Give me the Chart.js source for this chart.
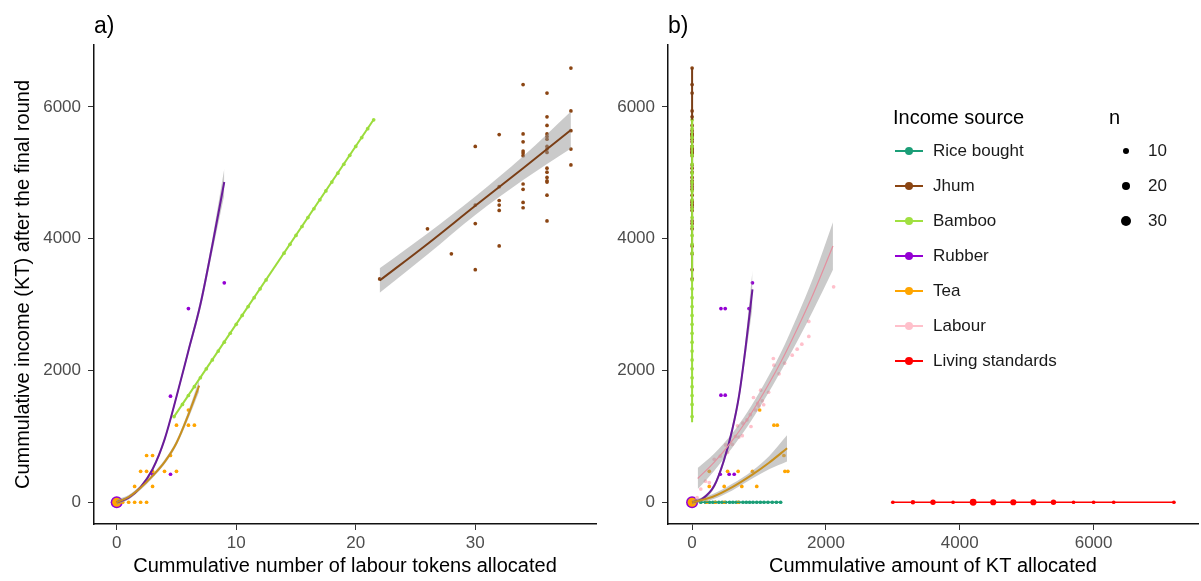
<!DOCTYPE html>
<html>
<head>
<meta charset="utf-8">
<title>Cumulative income by income source</title>
<script src="https://cdn.jsdelivr.net/npm/chart.js@4.4.1/dist/chart.umd.min.js"></script>
<style>
  body { margin: 0; background: #fff; font-family: "Liberation Sans", Arial, sans-serif; }
  #wrap { position: relative; width: 1201px; height: 581px; overflow: hidden; }
  canvas { position: absolute; top: 0; }
  #chartA { left: 0; }
  #chartB { left: 600px; }
  .tag { position: absolute; top: 14px; font-size: 23px; line-height: 1; color: #000; }
  .leg { position: absolute; white-space: nowrap; color: #1a1a1a; }
  .legTitle { font-size: 20px; line-height: 20px; color: #000; }
  .legText { font-size: 17px; line-height: 20px; }
  .keyLine { position: absolute; height: 2px; }
  .keyDot { position: absolute; border-radius: 50%; }
</style>
</head>
<body>
<div id="wrap">
  <canvas id="chartA" width="600" height="581"></canvas>
  <canvas id="chartB" width="601" height="581"></canvas>
  <div class="tag" style="left:94px">a)</div>
  <div class="tag" style="left:668px">b)</div>
  <div id="legend"></div>
</div>
<script>
// ---- data ----
const sources = ['Rice bought', 'Jhum', 'Bamboo', 'Rubber', 'Tea', 'Labour', 'Living standards'];
const sourceColors = ['#1B9E77', '#8B4513', '#A0E040', '#9400D3', '#FFA500', '#FFC0CB', '#FF0000'];
const sizeLegend = [10, 20, 30];

const yTicks = [0, 2000, 4000, 6000];
const xTicksA = [0, 10, 20, 30];
const xTicksB = [0, 2000, 4000, 6000];

// panel a: labour tokens vs income
const rubberTokens = [0, 3, 4.5, 4.5, 6, 9];
const rubberIncomeA = [0, 425, 425, 1610, 2940, 3330];
const rubberCountA = [35, 1, 1, 1, 1, 1];

const teaTokens = [0, 0.5, 1, 1.5, 2, 2.5, 1.5, 3, 2, 2.5, 3, 4, 5, 2.5, 3, 4.5, 5, 6, 6.5, 6];
const teaIncomeA = [0, 0, 0, 0, 0, 0, 240, 240, 470, 470, 470, 470, 470, 710, 710, 710, 1170, 1170, 1170, 1400];
const teaCountA = [17];

const bambooTokens = [4.8, 5.5, 6, 6.5, 7, 7.5, 8, 8.5, 9, 9.5, 10, 10.5, 11, 11.5, 12, 12.5, 14, 14.5, 15, 15.5, 16, 16.5, 17, 17.5, 18, 18.5, 19, 19.5, 20, 20.5, 21, 21.5];
const bambooIncome = [1300, 1485, 1620, 1755, 1890, 2025, 2160, 2295, 2430, 2565, 2700, 2835, 2970, 3105, 3240, 3375, 3780, 3915, 4050, 4185, 4320, 4455, 4590, 4725, 4860, 4995, 5130, 5265, 5400, 5535, 5670, 5805];

const jhumTokens = [22, 26, 28, 30, 30, 30, 30, 32, 32, 32, 32, 32, 32,
  34, 34, 34, 34, 34, 34, 34, 34, 34, 34,
  36, 36, 36, 36, 36, 36, 36, 36, 36, 36, 36, 36, 36, 36, 36, 36,
  38, 38, 38, 38, 38];
const jhumIncome = [3390, 4150, 3770, 5400, 4510, 4230, 3530, 5580, 4790, 4580, 4510, 4430, 3890,
  6340, 5590, 5470, 5330, 5300, 5260, 4830, 4750, 4550, 4470,
  6210, 5850, 5720, 5590, 5550, 5510, 5400, 5360, 5310, 5070, 5010, 4930, 4880, 4860, 4660, 4270,
  6590, 5940, 5640, 5360, 5120];

// fitted curves, panel a
const rubberFitA = { x: [0, 1, 2, 3, 4, 5, 6, 7, 8, 9],
  y: [0, 70, 230, 500, 950, 1600, 2300, 3000, 3900, 4860],
  lo: [-30, 40, 200, 470, 915, 1560, 2250, 2930, 3800, 4660],
  hi: [30, 100, 260, 530, 985, 1640, 2350, 3070, 4000, 5060] };
const teaFitA = { x: [0, 1, 2, 3, 4, 5, 6, 6.9],
  y: [0, 80, 220, 400, 610, 900, 1330, 1770],
  lo: [-40, 50, 190, 370, 575, 860, 1270, 1680],
  hi: [40, 110, 250, 430, 645, 940, 1390, 1860] };
const jhumFitA = { x: [22, 26, 30, 34, 38],
  y: [3365, 3920, 4500, 5070, 5650],
  lo: [3180, 3760, 4360, 4890, 5370],
  hi: [3550, 4080, 4640, 5250, 5930] };
const bambooFitA = { x: [4.8, 21.5], y: [1300, 5810] };

// panel b: KT allocated vs income
const riceKT = [130, 200, 260, 310, 347, 400, 450, 500, 560, 610, 660, 700, 760, 810, 860, 910, 966, 1020, 1075, 1134, 1198, 1260, 1323];
const riceIncome = [0, 0, 0, 0, 0, 0, 0, 0, 0, 0, 0, 0, 0, 0, 0, 0, 0, 0, 0, 0, 0, 0, 0];
const jhumKT = [0, 0, 0, 0, 0, 0, 0, 0, 0, 0, 0, 0, 0, 0, 0, 0, 0, 0, 0, 0, 0, 0, 0,
  0, 0, 0, 0, 0, 0, 0, 0, 0, 0, 0, 0, 0, 0, 0, 0, 0, 0, 0, 0, 0];
const bambooKT = [0, 0, 0, 0, 0, 0, 0, 0, 0, 0, 0, 0, 0, 0, 0, 0,
  0, 0, 0, 0, 0, 0, 0, 0, 0, 0, 0, 0, 0, 0, 0, 0];
const rubberKT = [0, 421, 554, 629, 431, 495, 431, 495, 851, 902];
const rubberIncomeB = [0, 425, 425, 425, 1625, 1625, 2940, 2940, 2940, 3330];
const rubberCountB = [35];
const teaKT = [0, 223, 347, 480, 688, 257, 480, 743, 966, 257, 530, 688, 902, 1387, 1431, 1372, 1223, 1273, 1010];
const teaIncomeB = [0, 0, 0, 0, 0, 240, 240, 240, 240, 470, 470, 470, 470, 470, 470, 710, 1170, 1170, 1400];
const teaCountB = [17];
const labourKT = [2115, 1744, 1744, 1570, 1496, 1214, 1223, 1382, 1144, 1025, 917, 1050, 980, 1000, 1070,
  679, 650, 700, 750, 530, 500, 331, 257, 200, 74, 420, 600, 820, 870, 760, 1300, 1640, 880, 950, 130];
const labourIncome = [3270, 2745, 2517, 2324, 2233, 2182, 2081, 2111, 1670, 1701, 1590, 1539, 1500, 1460, 1480,
  1160, 1000, 990, 1010, 755, 870, 653, 299, 320, 71, 700, 880, 1250, 1330, 1200, 1950, 2400, 1150, 1400, 200];
const livingKT = [3000, 3300, 3600, 3900, 4200, 4500, 4800, 5100, 5400, 5700, 6000, 6300, 7200];
const livingIncome = [0, 0, 0, 0, 0, 0, 0, 0, 0, 0, 0, 0, 0];
const livingCount = [1, 2, 4, 1, 8, 6, 6, 6, 4, 1, 1, 1, 1];

// fitted curves, panel b
const riceFitB = { x: [130, 1323], y: [0, 0] };
const jhumFitB = { x: [0, 0], y: [3365, 6590] };
const bambooFitB = { x: [0, 0], y: [1215, 5805] };
const rubberFitB = { x: [0, 150, 331, 480, 600, 703, 800, 902],
  y: [0, 50, 250, 650, 1100, 1625, 2350, 3230],
  lo: [-20, 25, 215, 600, 1040, 1545, 2220, 2950],
  hi: [20, 75, 285, 700, 1160, 1705, 2480, 3510] };
const teaFitB = { x: [0, 300, 600, 900, 1150, 1420],
  y: [0, 80, 230, 420, 600, 820],
  lo: [-30, 40, 180, 360, 500, 620],
  hi: [30, 120, 280, 480, 700, 1020] };
const labourFitB = { x: [84, 332, 580, 827, 1075, 1322, 1570, 1818, 2105],
  y: [360, 610, 910, 1260, 1670, 2120, 2630, 3180, 3890],
  lo: [200, 480, 800, 1150, 1550, 1980, 2440, 2930, 3530],
  hi: [520, 740, 1020, 1370, 1790, 2260, 2820, 3430, 4250] };

// ---- helpers ----
const FONT = '"Liberation Sans", Arial, sans-serif';
const BAND = 'rgba(150,150,150,0.5)';
const sizeFor = n => 1 + 0.85 * Math.sqrt(n);
const pts = (xs, ys) => xs.map((x, i) => ({ x: x, y: ys[i] }));

function pointSet(xs, ys, color, counts, order) {
  return {
    data: pts(xs, ys), showLine: false, order: order,
    pointRadius: xs.map((x, i) => sizeFor((counts && counts[i]) || 1)),
    pointBackgroundColor: color, pointBorderWidth: 0, pointHoverRadius: 0
  };
}
// lower order is drawn on top, so later income sources get lower numbers
function fitLine(fit, color, order, width) {
  return {
    data: pts(fit.x, fit.y), borderColor: color, borderWidth: width || 2,
    pointRadius: 0, fill: false, order: order,
    cubicInterpolationMode: fit.x.length > 2 && fit.x[0] !== fit.x[1] ? 'monotone' : 'default'
  };
}
function band(fit) {
  return [
    { data: pts(fit.x, fit.lo), borderWidth: 0, pointRadius: 0, fill: false, order: 40, cubicInterpolationMode: 'monotone' },
    { data: pts(fit.x, fit.hi), borderWidth: 0, pointRadius: 0, fill: '-1', backgroundColor: BAND, order: 40, cubicInterpolationMode: 'monotone' }
  ];
}

function makeChart(id, datasets, xMin, xMax, xTicks, xTitle, yTitle, yWidth, padRight) {
  return new Chart(document.getElementById(id), {
    type: 'line',
    data: { datasets: datasets },
    options: {
      responsive: false, animation: false, events: [],
      layout: { padding: { top: 45, right: padRight, left: 0, bottom: 0 }, autoPadding: false },
      plugins: { legend: { display: false }, tooltip: { enabled: false } },
      scales: {
        x: {
          type: 'linear', min: xMin, max: xMax,
          afterBuildTicks: s => { s.ticks = xTicks.map(v => ({ value: v })); },
          afterFit: s => { s.height = 57; },
          grid: { drawOnChartArea: false, drawTicks: true, tickLength: 6, color: '#333' },
          border: { display: true, color: '#111', width: 1.5 },
          ticks: { color: '#4d4d4d', font: { size: 17, family: FONT }, padding: 3, maxRotation: 0, callback: v => String(v) },
          title: { display: true, text: xTitle, color: '#000', font: { size: 20, family: FONT }, padding: { top: 0, bottom: 3 } }
        },
        y: {
          type: 'linear', min: -330, max: 6940,
          afterBuildTicks: s => { s.ticks = yTicks.map(v => ({ value: v })); },
          afterFit: s => { s.width = yWidth; },
          grid: { drawOnChartArea: false, drawTicks: true, tickLength: 6, color: '#333' },
          border: { display: true, color: '#111', width: 1.5 },
          ticks: { color: '#4d4d4d', font: { size: 17, family: FONT }, padding: 7, callback: v => String(v) },
          title: { display: !!yTitle, text: yTitle, color: '#000', font: { size: 20, family: FONT }, padding: { top: 11, bottom: 0 } }
        }
      }
    }
  });
}

// ---- panel a ----
const dsA = [
  pointSet(jhumTokens, jhumIncome, sourceColors[1], null, 56),
  pointSet(bambooTokens, bambooIncome, sourceColors[2], null, 55),
  pointSet(rubberTokens, rubberIncomeA, sourceColors[3], rubberCountA, 54),
  pointSet(teaTokens, teaIncomeA, sourceColors[4], teaCountA, 53),
  ...band(jhumFitA), ...band(rubberFitA), ...band(teaFitA),
  fitLine(jhumFitA, '#7A3E16', 15),
  fitLine(bambooFitA, '#9BDC3C', 14),
  fitLine(rubberFitA, '#6A1B9A', 13),
  fitLine(teaFitA, '#C8901E', 12)
];
makeChart('chartA', dsA, -1.9, 40.1, xTicksA,
  'Cummulative number of labour tokens allocated',
  'Cummulative income (KT) after the final round', 94, 4);

// ---- panel b ----
const dsB = [
  pointSet(riceKT, riceIncome, sourceColors[0], null, 57),
  pointSet(jhumKT, jhumIncome, sourceColors[1], null, 56),
  pointSet(bambooKT, bambooIncome, sourceColors[2], null, 55),
  pointSet(rubberKT, rubberIncomeB, sourceColors[3], rubberCountB, 54),
  pointSet(teaKT, teaIncomeB, sourceColors[4], teaCountB, 53),
  pointSet(labourKT, labourIncome, sourceColors[5], null, 52),
  pointSet(livingKT, livingIncome, sourceColors[6], livingCount, 51),
  ...band(rubberFitB), ...band(teaFitB), ...band(labourFitB),
  fitLine(riceFitB, sourceColors[0], 16, 1.5),
  fitLine(jhumFitB, '#7A3E16', 15),
  fitLine(bambooFitB, '#9BDC3C', 14),
  fitLine(rubberFitB, '#6A1B9A', 13),
  fitLine(teaFitB, '#C8901E', 12),
  fitLine(labourFitB, '#E3909F', 11, 1.2),
  fitLine({ x: [livingKT[0], livingKT[livingKT.length - 1]], y: [0, 0] }, sourceColors[6], 10, 1.5)
];
makeChart('chartB', dsB, -360, 7560, xTicksB,
  'Cummulative amount of KT allocated', '', 68, 3);

// ---- legends ----
const legend = document.getElementById('legend');
function add(html, style, cls) {
  const d = document.createElement('div');
  d.className = cls;
  d.style.cssText = style;
  d.innerHTML = html;
  legend.appendChild(d);
}
add('Income source', 'left:893px;top:107px', 'leg legTitle');
sources.forEach((s, i) => {
  const cy = 151 + 35 * i;
  add('', `left:895px;top:${cy - 1}px;width:28px;background:${sourceColors[i]}`, 'keyLine');
  add('', `left:${909 - 4}px;top:${cy - 4}px;width:8px;height:8px;background:${sourceColors[i]}`, 'keyDot');
  add(s, `left:933px;top:${cy - 10}px`, 'leg legText');
});
add('n', 'left:1109px;top:107px', 'leg legTitle');
sizeLegend.forEach((n, i) => {
  const cy = 151 + 35 * i, r = sizeFor(n) * 0.9;
  add('', `left:${1126 - r}px;top:${cy - r}px;width:${2 * r}px;height:${2 * r}px;background:#000`, 'keyDot');
  add(String(n), `left:1148px;top:${cy - 10}px`, 'leg legText');
});
</script>
</body>
</html>
